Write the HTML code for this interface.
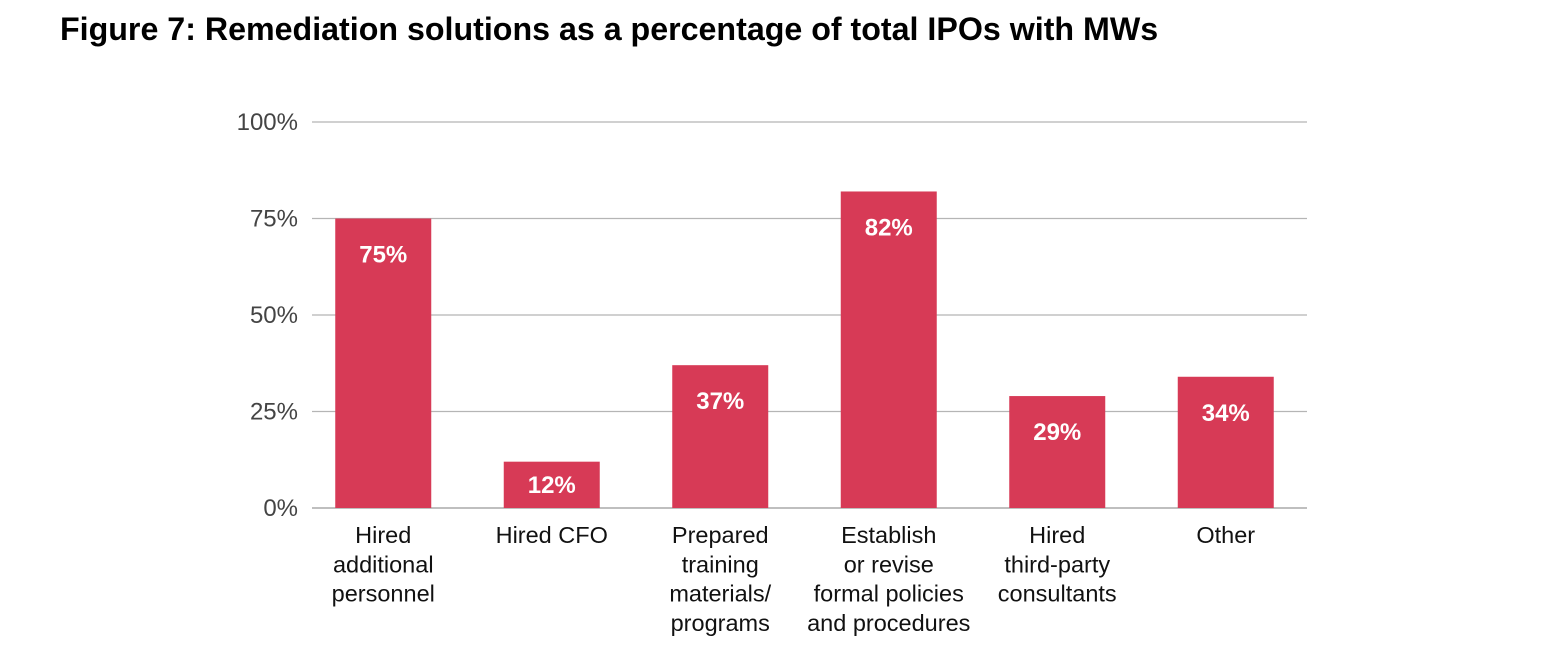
<!DOCTYPE html>
<html><head><meta charset="utf-8"><style>
body{margin:0;background:#fff;font-family:"Liberation Sans",Arial,sans-serif}
svg{display:block}
</style></head><body>
<svg width="1550" height="664">
<text x="60" y="40" font-size="32.2" font-weight="bold" fill="#000">Figure 7: Remediation solutions as a percentage of total IPOs with MWs</text>
<g id="grid"></g><g id="bars"></g><g id="labels"></g>
</svg>
<script>
const categories=[["Hired","additional","personnel"],["Hired CFO"],["Prepared","training","materials/","programs"],["Establish","or revise","formal policies","and procedures"],["Hired","third-party","consultants"],["Other"]];
const values=[75,12,37,82,29,34];
const ticks=[0,25,50,75,100];
const ns="http://www.w3.org/2000/svg";
const y0=508,y1=122,xs=299,xe=1310,barW=96;
const y=v=>y0-(v/100)*(y0-y1);
const step=(xe-xs)/categories.length;
const xc=i=>xs+step*(i+0.5);
function mk(t,a,p){const e=document.createElementNS(ns,t);for(const k in a)e.setAttribute(k,a[k]);p.appendChild(e);return e;}
const grid=document.getElementById('grid'),bars=document.getElementById('bars'),labels=document.getElementById('labels');
ticks.forEach(t=>{
 const l=mk('line',{x1:312,x2:1307,y1:y(t),y2:y(t),stroke:t===0?'#999':'#b5b5b5','stroke-width':1.3},grid);
 
 
 const tx=mk('text',{x:298,y:y(t)+8,'text-anchor':'end','font-size':24,fill:'#444'},grid);
 tx.textContent=t+'%';
 
 
});
values.forEach((v,i)=>{
 const h=y0-y(v);
 const r=mk('rect',{x:xc(i)-barW/2,y:y(v),width:barW,height:h,fill:'#d73a56'},bars);
 
 
 const ly=h<70?y(v)+h/2+8:y(v)+44;
 const t=mk('text',{x:xc(i),y:ly,'text-anchor':'middle','font-size':24,'font-weight':'bold',fill:'#fff'},bars);
 t.textContent=v+'%';
 
 
 categories[i].forEach((line,j)=>{
  const c=mk('text',{x:xc(i),y:543+j*29.3,'text-anchor':'middle','font-size':23.5,fill:'#111'},labels);
  c.textContent=line;
  
  
 });
});
</script>
</body></html>
